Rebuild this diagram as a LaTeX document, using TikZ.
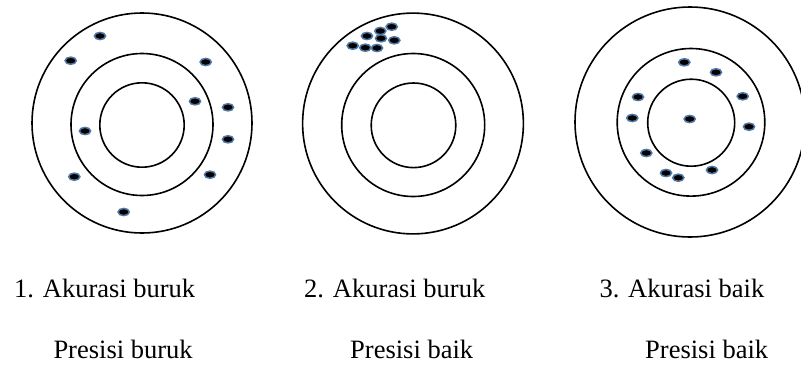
\documentclass[tikz,border=0pt]{standalone}
\usepackage{fontspec}
\setmainfont{Liberation Serif}
\newfontfamily\lblfont{Liberation Serif}
\definecolor{halo}{RGB}{80,120,165}
\begin{document}
\begin{tikzpicture}[x=1pt,y=-1pt,
  ring/.style={draw=black,line width=1.6pt},
  shot/.style={fill=black,draw=halo,line width=1.5pt},
  lbl/.style={anchor=base west,inner sep=0pt,font=\lblfont\fontsize{26.5}{30}\selectfont}]
\useasboundingbox (0,0) rectangle (801,365);
% target 1
\draw[ring] (142,123) circle (110);
\draw[ring] (142,124.5) circle (71);
\draw[ring] (142,125) circle (42.2);
\foreach \p in {(100,36),(70.7,60.7),(205.7,62),(195,101.3),(228,107.3),(85,131),(228,139.3),(74.3,176.7),(210,174.7),(123.7,212)}
  \path[shot] \p ellipse (5.6 and 3.6);
% target 2
\draw[ring] (413,123.5) circle (110.4);
\draw[ring] (413.2,125) circle (71.5);
\draw[ring] (413.5,125.3) circle (42.3);
\foreach \p in {(352.7,45.7),(365.3,47.7),(377,48),(367,36),(380.3,31),(381,38.3),(391.7,26.7),(394.3,40.3)}
  \path[shot] \p ellipse (5.6 and 3.6);
% target 3
\draw[ring] (690,122) circle (115);
\draw[ring] (691,122.3) circle (73.8);
\draw[ring] (691.2,122.7) circle (43.5);
\foreach \p in {(684.3,62.3),(716,72.3),(638,97),(742.7,96.3),(632.3,118),(689.7,119),(749,126.7),(646.3,153),(666,173),(678.3,177.7),(712,170)}
  \path[shot] \p ellipse (5.6 and 3.6);
% labels
\node[lbl] (a1) at (14,297) {1. Akurasi buruk};
\node[lbl] (p1) at (53.3,358) {Presisi buruk};
\node[lbl] (a2) at (304,297) {2. Akurasi buruk};
\node[lbl] (p2) at (350,358) {Presisi baik};
\node[lbl] (a3) at (599.3,297) {3. Akurasi baik};
\node[lbl] (p3) at (645,358) {Presisi baik};
\end{tikzpicture}
\end{document}
